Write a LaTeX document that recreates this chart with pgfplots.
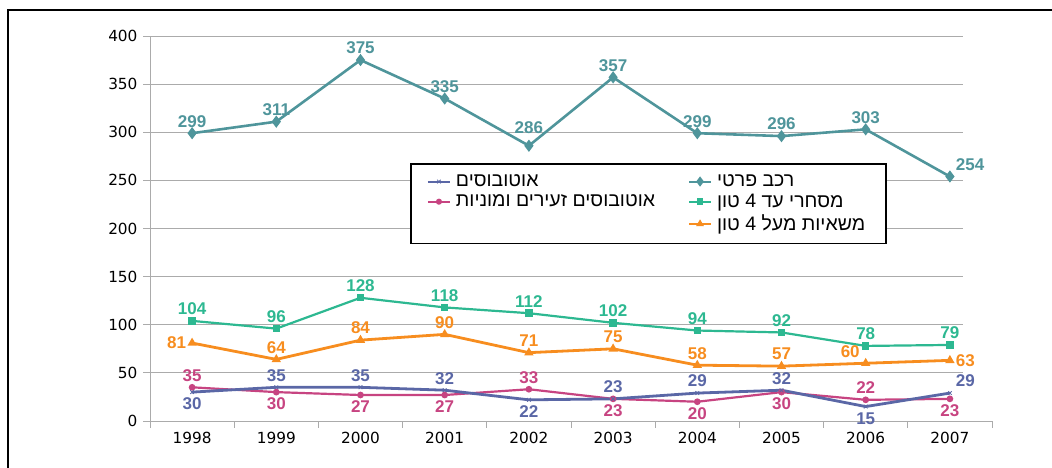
\documentclass[border=0pt]{standalone}
\usepackage{fontspec}
\setmainfont{Liberation Sans}
\newfontfamily\hebfont[Script=Hebrew]{Liberation Sans}
\newfontfamily\tickfont{DejaVu Sans}
\TeXXeTstate=1
\usepackage{pgfplots}
\usepackage{pgfplotstable}
\pgfplotsset{compat=1.18}
\definecolor{cPriv}{HTML}{4F959B}
\definecolor{cComm}{HTML}{2DB891}
\definecolor{cTruck}{HTML}{F78D1F}
\definecolor{cBus}{HTML}{5A67A6}
\definecolor{cMini}{HTML}{C74481}
\definecolor{gridgray}{HTML}{ABABAB}
% label positions: 270=above, 271=higher above, 90=below, 0=left, 180=right, 225=above right, 315=above left
\pgfplotstableread{
x priv pa comm ca truck ta bus ba mini ma
0 299 270 104 270 81 0 30 90 35 270
1 311 270 96 270 64 270 35 270 30 90
2 375 270 128 270 84 270 35 270 27 90
3 335 270 118 270 90 270 32 270 27 90
4 286 271 112 270 71 270 22 90 33 270
5 357 270 102 270 75 270 23 270 23 90
6 299 270 94 270 58 270 29 270 20 90
7 296 270 92 270 57 270 32 270 30 90
8 303 270 78 270 60 315 15 90 22 270
9 254 225 79 270 63 180 29 225 23 90
}\datatable
\tikzset{
  lab/270/.style={anchor=south},
  lab/271/.style={anchor=south,yshift=6pt},
  lab/90/.style={anchor=north},
  lab/0/.style={anchor=east},
  lab/180/.style={anchor=west},
  lab/225/.style={anchor=south west},
  lab/315/.style={anchor=south east},
}
\pgfplotsset{vlab/.style={
  nodes near coords={\pgfmathprintnumber{\rawy}},
  point meta=explicit symbolic,
  visualization depends on={rawy\as\rawy},
  every node near coord/.append style={font=\bfseries\fontsize{17}{20}\selectfont,
     lab/\pgfplotspointmeta, inner sep=2pt, outer sep=4pt, text=#1}}}
\newcommand{\lstrut}{\rule[-4pt]{0pt}{15pt}}
\begin{document}
\begin{tikzpicture}[x=1pt,y=1pt]
\useasboundingbox (0,0) rectangle (1052,468);
\draw[black,line width=1.3pt] (8,0) -- (8,458) -- (1052,458);
\begin{axis}[
  at={(150pt,47pt)}, anchor=south west,
  scale only axis, width=842pt, height=385pt,
  xmin=-0.5, xmax=9.5, ymin=0, ymax=400,
  axis lines=left, axis line style={-,gridgray,line width=0.9pt},
  xtick={-0.5,0.5,1.5,2.5,3.5,4.5,5.5,6.5,7.5,8.5,9.5}, xticklabels={},
  extra x ticks={0,1,2,3,4,5,6,7,8,9},
  extra x tick labels={1998,1999,2000,2001,2002,2003,2004,2005,2006,2007},
  extra x tick style={major tick length=0pt},
  ytick={0,50,...,400},
  tick align=outside, major tick length=7pt,
  tick style={gridgray,line width=0.9pt},
  tick label style={font=\tickfont\fontsize{15.3}{18}\selectfont, text=black},
  /pgf/number format/assume math mode=true,
  yticklabel style={xshift=-2pt},
  xticklabel style={yshift=-8pt},
  clip=false,
  legend columns=2,
  legend cell align=left,
  legend image code/.code={\draw[mark repeat=2,mark phase=2] plot coordinates {(0pt,0pt) (11pt,0pt) (22pt,0pt)};},
  legend style={at={(rel axis cs:0.8753,0.67)}, anchor=north east,
    draw=black, line width=1.6pt, font=\hebfont\fontsize{19.5}{22}\selectfont,
    inner xsep=16pt, inner ysep=10pt, row sep=4pt,
    nodes={inner xsep=5pt, inner ysep=1pt},
    /tikz/every even column/.append style={column sep=28pt}},
]
\pgfplotsinvokeforeach{50,100,...,400}{
  \draw[gridgray,line width=0.9pt] (axis cs:-0.5,#1) -- (axis cs:9.15,#1);
}
\addplot[forget plot, cPriv, line width=2.6pt, mark=diamond*, mark size=4pt, vlab=cPriv]
  table[x=x,y=priv,meta=pa] {\datatable};
\addplot[forget plot, cComm, line width=2.2pt, mark=square*, mark size=2.6pt, vlab=cComm]
  table[x=x,y=comm,meta=ca] {\datatable};
\addplot[forget plot, cTruck, line width=2.8pt, mark=triangle*, mark size=2.6pt, vlab=cTruck]
  table[x=x,y=truck,meta=ta] {\datatable};
\addplot[forget plot, cMini, line width=2.2pt, mark=*, mark size=2.2pt, vlab=cMini]
  table[x=x,y=mini,meta=ma] {\datatable};
\addplot[forget plot, cBus, line width=2.8pt, mark=x, mark size=2.6pt,
  mark options={line width=0.8pt}, vlab=cBus]
  table[x=x,y=bus,meta=ba] {\datatable};
\addlegendimage{cBus, line width=2pt, mark=x, mark size=2.5pt, mark options={line width=0.8pt}}
\addlegendentry{\lstrut\beginR אוטובוסים\endR}
\addlegendimage{cPriv, line width=2pt, mark=diamond*, mark size=3.5pt}
\addlegendentry{\lstrut\beginR רכב פרטי\endR}
\addlegendimage{cMini, line width=2pt, mark=*, mark size=2pt}
\addlegendentry{\lstrut\beginR אוטובוסים זעירים ומוניות\endR}
\addlegendimage{cComm, line width=2pt, mark=square*, mark size=2.3pt}
\addlegendentry{\lstrut\beginR מסחרי עד 4 טון\endR}
\addlegendimage{empty legend}
\addlegendentry{}
\addlegendimage{cTruck, line width=2pt, mark=triangle*, mark size=2.5pt}
\addlegendentry{\rule[-12pt]{0pt}{15pt}\beginR משאיות מעל 4 טון\endR}
\end{axis}
\end{tikzpicture}
\end{document}
